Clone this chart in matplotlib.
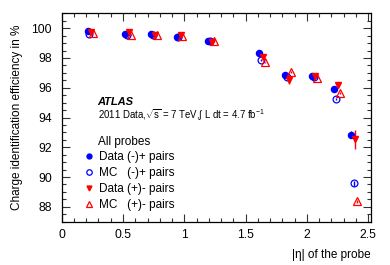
import matplotlib
matplotlib.use("Agg")
import matplotlib.pyplot as plt
from matplotlib.ticker import MultipleLocator

plt.rcParams['font.family'] = ['Liberation Sans', 'DejaVu Sans']
plt.rcParams['mathtext.fontset'] = 'custom'
plt.rcParams['mathtext.rm'] = 'Liberation Sans'
plt.rcParams['mathtext.it'] = 'Liberation Sans:italic'

# Data (-)+ pairs
eta_data_mp = [0.212, 0.519, 0.728, 0.937, 1.196, 1.609, 1.823, 2.040, 2.217, 2.361]
eff_data_mp = [99.78, 99.60, 99.64, 99.44, 99.15, 98.36, 96.86, 96.79, 95.90, 92.84]
err_data_mp = [0.04, 0.04, 0.04, 0.05, 0.06, 0.10, 0.18, 0.12, 0.20, 0.22]
# MC (-)+ pairs
eta_mc_mp = [0.226, 0.535, 0.745, 0.950, 1.210, 1.622, 1.836, 2.054, 2.236, 2.380]
eff_mc_mp = [99.62, 99.55, 99.57, 99.40, 99.12, 97.87, 96.75, 96.70, 95.24, 89.57]
err_mc_mp = [0.02, 0.02, 0.02, 0.02, 0.03, 0.05, 0.06, 0.06, 0.08, 0.15]
# Data (+)- pairs
eta_data_pm = [0.239, 0.552, 0.761, 0.973, 1.223, 1.639, 1.851, 2.068, 2.253, 2.394]
eff_data_pm = [99.75, 99.73, 99.57, 99.53, 99.10, 98.09, 96.52, 96.79, 96.19, 92.53]
err_data_pm = [0.04, 0.04, 0.04, 0.05, 0.06, 0.12, 0.30, 0.15, 0.18, 0.65]
# MC (+)- pairs
eta_mc_pm = [0.253, 0.565, 0.774, 0.984, 1.239, 1.658, 1.867, 2.084, 2.269, 2.410]
eff_mc_pm = [99.70, 99.57, 99.53, 99.50, 99.12, 97.71, 97.06, 96.68, 95.63, 88.36]
err_mc_pm = [0.02, 0.02, 0.02, 0.02, 0.03, 0.05, 0.06, 0.06, 0.08, 0.12]

x_ticks = [0, 0.5, 1, 1.5, 2, 2.5]
x_tick_labels = ['0', '0.5', '1', '1.5', '2', '2.5']

BLUE = '#0000ff'
RED = '#ff0000'

W, H = 390, 265
fig = plt.figure(figsize=(W / 100, H / 100), dpi=100)
ax = fig.add_axes([61.7 / W, 1 - 221.7 / H, (370.7 - 61.7) / W, (221.7 - 13.3) / H])

ms = 4.4
c1 = ax.errorbar(eta_data_mp, eff_data_mp, yerr=err_data_mp, fmt='o', color=BLUE,
                 ms=ms, elinewidth=1.0, capsize=0)
c2 = ax.errorbar(eta_mc_mp, eff_mc_mp, yerr=err_mc_mp, fmt='o', color=BLUE, mfc='none',
                 mew=0.9, ms=ms + 0.5, elinewidth=1.0, capsize=0)
c3 = ax.errorbar(eta_data_pm, eff_data_pm, yerr=err_data_pm, fmt='v', color=RED,
                 ms=ms, elinewidth=1.0, capsize=0)
c4 = ax.errorbar(eta_mc_pm, eff_mc_pm, yerr=err_mc_pm, fmt='^', color=RED, mfc='none',
                 mew=0.9, ms=ms + 0.8, elinewidth=1.0, capsize=0)

ax.set_xlim(0, 2.52)
ax.set_ylim(87, 101)
ax.set_xticks(x_ticks)
ax.set_xticklabels(x_tick_labels)
ax.xaxis.set_minor_locator(MultipleLocator(0.1))
ax.yaxis.set_major_locator(MultipleLocator(2))
ax.yaxis.set_minor_locator(MultipleLocator(0.5))
ax.tick_params(which='both', direction='in', top=True, right=True, labelsize=8.7,
               width=0.8, color='#333333')
ax.tick_params(which='major', length=6)
ax.tick_params(which='minor', length=3)
ax.tick_params(axis='y', pad=7)
ax.tick_params(axis='x', pad=5)
for s in ax.spines.values():
    s.set_linewidth(0.9)
ax.set_xlabel('|η| of the probe', fontsize=8.5, loc='right', labelpad=6)
ax.set_ylabel('Charge identification efficiency in %', fontsize=8.5, labelpad=6)

fig.text(97.7 / W, 1 - 101.7 / H, 'ATLAS', fontsize=8, fontweight='bold',
         fontstyle='italic', va='center', ha='left')
fig.text(97.5 / W, 1 - 115.5 / H,
         r'2011 Data,$\sqrt{\rm s}$ = 7 TeV,$\int$ L dt = 4.7 fb$^{-1}$',
         fontsize=6.9, va='center', ha='left')
fig.text(97.7 / W, 1 - 141.7 / H, 'All probes', fontsize=8.5, va='center', ha='left')

handles = [c1[0], c2[0], c3[0], c4[0]]
labels = ['Data (-)+ pairs', 'MC   (-)+ pairs', 'Data (+)- pairs', 'MC   (+)- pairs']
leg = ax.legend(handles, labels, loc='upper left', bbox_to_anchor=(84 / W, 1 - 151 / H),
                bbox_transform=fig.transFigure, frameon=False, fontsize=8.5,
                handlelength=0.8, handletextpad=0.45, labelspacing=0.33,
                borderpad=0, borderaxespad=0, markerscale=0.8)

fig.savefig('out.png', dpi=100)
